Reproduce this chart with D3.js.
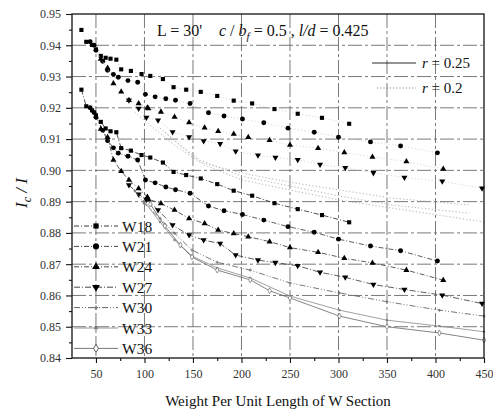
<!DOCTYPE html>
<html>
<head>
<meta charset="utf-8">
<script src="https://cdn.jsdelivr.net/npm/d3@7"></script>
<style>
  html, body { margin: 0; padding: 0; background: #fff; }
  svg { display: block; }
  svg text { font-family: "Liberation Serif", "DejaVu Serif", serif; }
</style>
</head>
<body>
<svg id="chart" width="493" height="412"></svg>
<script>
// ---- tick labels ----
const xTickValues = [50, 100, 150, 200, 250, 300, 350, 400, 450];
const yTickValues = [0.84, 0.85, 0.86, 0.87, 0.88, 0.89, 0.90, 0.91, 0.92, 0.93, 0.94, 0.95];

// ---- W18 ----
const w18Weight = [35, 40, 46, 50, 55, 60, 65, 71, 76, 86, 97, 106, 119, 130, 143, 158, 175, 192, 211, 234, 258, 283, 311];
const w18R025 = [0.9258, 0.9205, 0.9192, 0.9176, 0.9155, 0.9134, 0.9125, 0.9122, 0.9071, 0.9063, 0.9049, 0.9041, 0.9025, 0.8995, 0.8985, 0.8974, 0.8956, 0.8935, 0.8919, 0.8895, 0.8876, 0.8857, 0.8834];
const w18R020 = [0.9449, 0.9411, 0.9401, 0.9387, 0.9366, 0.9360, 0.9357, 0.9354, 0.9323, 0.9318, 0.9308, 0.9302, 0.9292, 0.9266, 0.9258, 0.9251, 0.9238, 0.9223, 0.9214, 0.9196, 0.9181, 0.9168, 0.9149];

// ---- W21 ----
const w21Weight = [44, 48, 50, 57, 62, 68, 73, 83, 93, 101, 111, 122, 132, 147, 166, 182, 201, 223, 248, 275, 300, 333, 364, 402];
const w21R025 = [0.9200, 0.9185, 0.9170, 0.9128, 0.9095, 0.9072, 0.9055, 0.9045, 0.9033, 0.8969, 0.8960, 0.8947, 0.8938, 0.8927, 0.8886, 0.8871, 0.8859, 0.8841, 0.8820, 0.8802, 0.8780, 0.8758, 0.8743, 0.8710];
const w21R020 = [0.9411, 0.9400, 0.9384, 0.9349, 0.9320, 0.9307, 0.9298, 0.9287, 0.9282, 0.9243, 0.9235, 0.9229, 0.9224, 0.9214, 0.9184, 0.9174, 0.9164, 0.9152, 0.9135, 0.9122, 0.9106, 0.9091, 0.9078, 0.9056];

// ---- W24 ----
const w24Weight = [55, 62, 68, 76, 84, 94, 103, 104, 117, 131, 146, 162, 176, 192, 207, 229, 250, 279, 306, 335, 370, 408];
const w24R025 = [0.9132, 0.9106, 0.9033, 0.8997, 0.8969, 0.8942, 0.8915, 0.8908, 0.8894, 0.8873, 0.8846, 0.8830, 0.8809, 0.8798, 0.8788, 0.8772, 0.8753, 0.8738, 0.8719, 0.8704, 0.8681, 0.8649];
const w24R020 = [0.9356, 0.9327, 0.9278, 0.9251, 0.9224, 0.9214, 0.9200, 0.9198, 0.9187, 0.9171, 0.9153, 0.9136, 0.9125, 0.9116, 0.9106, 0.9096, 0.9081, 0.9071, 0.9057, 0.9043, 0.9028, 0.9004];

// ---- W27 ----
const w27Weight = [84, 94, 102, 114, 129, 146, 161, 178, 194, 217, 235, 258, 281, 307, 336, 368, 407, 448];
const w27R025 = [0.8953, 0.8924, 0.8907, 0.8873, 0.8825, 0.8793, 0.8777, 0.8766, 0.8729, 0.8713, 0.8705, 0.8695, 0.8674, 0.8658, 0.8635, 0.8619, 0.8601, 0.8574];
const w27R020 = [0.9224, 0.9198, 0.9169, 0.9160, 0.9123, 0.9107, 0.9094, 0.9085, 0.9061, 0.9048, 0.9041, 0.9034, 0.9019, 0.9008, 0.8992, 0.8977, 0.8965, 0.8943];

// ---- W30 ----
const w30WeightR025 = [90, 99.5, 116, 131, 149, 175, 209, 250, 301, 350, 404, 450];
const w30R025 = [0.8935, 0.8895, 0.8847, 0.8799, 0.8745, 0.8706, 0.8681, 0.8640, 0.8608, 0.8580, 0.8553, 0.8534];
const w30WeightR020 = [90, 106, 131, 157, 201, 250, 301, 356, 435];
const w30R020 = [0.9186, 0.9144, 0.9081, 0.9026, 0.8991, 0.8962, 0.8937, 0.8911, 0.8889];

// ---- W33 ----
const w33WeightR025 = [99.5, 116, 131, 149, 175, 209, 250, 301, 350, 404, 450];
const w33R025 = [0.8902, 0.8835, 0.8777, 0.8726, 0.8688, 0.8656, 0.8598, 0.8553, 0.8521, 0.8502, 0.8484];
const w33WeightR020 = [116, 137, 157, 201, 250, 301, 356, 435];
const w33R020 = [0.9135, 0.9081, 0.9033, 0.8981, 0.8950, 0.8918, 0.8889, 0.8863];

// ---- W36 ----
const w36WeightR025 = [106, 121, 137, 149, 175, 209, 229, 250, 301, 350, 404, 450];
const w36R025 = [0.8892, 0.8822, 0.8761, 0.8723, 0.8681, 0.8650, 0.8615, 0.8592, 0.8534, 0.8500, 0.8480, 0.8457];
const w36WeightR020 = [121, 142, 162, 201, 250, 301, 356, 450];
const w36R020 = [0.9122, 0.9065, 0.9017, 0.8969, 0.8937, 0.8905, 0.8879, 0.8835];

const seriesNames = ["W18", "W21", "W24", "W27", "W30", "W33", "W36"];

// ---- layout ----
const svg = d3.select("#chart");
const plot = { left: 72, right: 484, top: 14, bottom: 358 };

const x = d3.scaleLinear().domain([25.3, 450]).range([plot.left, plot.right]);
const y = d3.scaleLinear().domain([0.84, 0.95]).range([plot.bottom, plot.top]);

// grid
const grid = svg.append("g").attr("class", "grid");
grid.selectAll("line.gx").data(xTickValues.slice(0, -1)).join("line")
  .attr("x1", d => x(d)).attr("x2", d => x(d))
  .attr("y1", plot.top).attr("y2", plot.bottom)
  .attr("stroke", "#6a6a6a").attr("stroke-width", 0.9).attr("stroke-dasharray", "14,3,3,3");
grid.selectAll("line.gy").data(yTickValues.slice(1, -1)).join("line")
  .attr("x1", plot.left).attr("x2", plot.right)
  .attr("y1", d => y(d)).attr("y2", d => y(d))
  .attr("stroke", "#6a6a6a").attr("stroke-width", 0.9).attr("stroke-dasharray", "14,3,3,3");

// axes
const xAxis = d3.axisBottom(x).tickValues(xTickValues).tickSize(5).tickPadding(6).tickFormat(d3.format("d"));
const yAxis = d3.axisLeft(y).tickValues(yTickValues).tickSize(6).tickPadding(5).tickFormat(d3.format(".2f"));
const xMinor = d3.axisBottom(x).tickValues(d3.range(75, 450, 50)).tickSize(3).tickFormat("");
const yMinor = d3.axisLeft(y).tickValues(d3.range(0.845, 0.95, 0.01)).tickSize(3).tickFormat("");

function styleAxis(g) {
  g.attr("font-family", null);
  g.select(".domain").remove();
  g.selectAll(".tick line").attr("stroke", "#111").attr("stroke-width", 1.1);
  g.selectAll(".tick text").attr("fill", "#333").attr("font-size", 12)
    .style("font-family", "Liberation Serif, serif");
}
svg.append("g").attr("transform", `translate(0,${plot.bottom})`).call(xAxis).call(styleAxis);
svg.append("g").attr("transform", `translate(0,${plot.bottom})`).call(xMinor).call(styleAxis);
svg.append("g").attr("transform", `translate(${plot.left},0)`).call(yAxis).call(styleAxis);
svg.append("g").attr("transform", `translate(${plot.left},0)`).call(yMinor).call(styleAxis);

// series
const markerShapes = {
  W18: d3.symbolSquare, W21: d3.symbolCircle, W24: d3.symbolTriangle, W27: d3.symbolTriangle,
  W30: d3.symbolCross, W33: d3.symbolCross, W36: d3.symbolDiamond
};
const markerSizes = { W18: 17, W21: 19, W24: 16, W27: 16, W30: 5, W33: 4, W36: 10 };

function pairs(xs, ys) { return xs.map((v, i) => [v, ys[i]]); }

const lowerSeries = [
  { name: "W18", pts: pairs(w18Weight, w18R025) },
  { name: "W21", pts: pairs(w21Weight, w21R025) },
  { name: "W24", pts: pairs(w24Weight, w24R025) },
  { name: "W27", pts: pairs(w27Weight, w27R025) },
  { name: "W30", pts: pairs(w30WeightR025, w30R025) },
  { name: "W33", pts: pairs(w33WeightR025, w33R025) },
  { name: "W36", pts: pairs(w36WeightR025, w36R025) }
];
const upperSeries = [
  { name: "W18", pts: pairs(w18Weight, w18R020) },
  { name: "W21", pts: pairs(w21Weight, w21R020) },
  { name: "W24", pts: pairs(w24Weight, w24R020) },
  { name: "W27", pts: pairs(w27Weight, w27R020) },
  { name: "W30", pts: pairs(w30WeightR020, w30R020) },
  { name: "W33", pts: pairs(w33WeightR020, w33R020) },
  { name: "W36", pts: pairs(w36WeightR020, w36R020) }
];

const lineStyle = {
  W18: { stroke: "#222", dash: "5,2,1,2", w: 0.8 },
  W21: { stroke: "#333", dash: "5,2,1,2", w: 0.8 },
  W24: { stroke: "#333", dash: "5,2,1,2", w: 0.8 },
  W27: { stroke: "#333", dash: "6,2,1,2", w: 0.8 },
  W30: { stroke: "#555", dash: "6,2,1,2,1,2", w: 0.8 },
  W33: { stroke: "#888", dash: null, w: 0.8 },
  W36: { stroke: "#666", dash: null, w: 0.8 }
};

const line = d3.line().x(d => x(d[0])).y(d => y(d[1]));

function drawMarkers(g, s) {
  const rot = s.name === "W27" ? 180 : (s.name === "W33" ? 45 : 0);
  const open = s.name === "W36";
  const light = s.name === "W30" || s.name === "W33";
  g.selectAll(null).data(s.pts).join("path")
    .attr("d", d3.symbol().type(markerShapes[s.name]).size(markerSizes[s.name]))
    .attr("transform", d => `translate(${x(d[0])},${y(d[1])}) rotate(${rot})`)
    .attr("fill", open ? "#fff" : (light ? "#777" : "#000"))
    .attr("stroke", open ? "#555" : "none")
    .attr("stroke-width", 0.6);
}

// r = 0.2: markers with faint dotted connectors
const upperG = svg.append("g").attr("class", "r020");
upperSeries.forEach(s => {
  const faint = ["W30", "W33", "W36"].includes(s.name);
  upperG.append("path").datum(s.pts)
    .attr("d", line).attr("fill", "none")
    .attr("stroke", faint ? "#aaa" : "#c4c4c4").attr("stroke-width", faint ? 0.9 : 0.7)
    .attr("stroke-dasharray", "1.2,2.2");
  if (!faint) drawMarkers(upperG, s);
});

// r = 0.25: markers joined by lines
const lowerG = svg.append("g").attr("class", "r025");
lowerSeries.forEach(s => {
  const st = lineStyle[s.name];
  lowerG.append("path").datum(s.pts)
    .attr("d", line).attr("fill", "none")
    .attr("stroke", st.stroke).attr("stroke-width", st.w)
    .attr("stroke-dasharray", st.dash);
  drawMarkers(lowerG, s);
});

// frame
svg.append("rect")
  .attr("x", plot.left).attr("y", plot.top)
  .attr("width", plot.right - plot.left).attr("height", plot.bottom - plot.top)
  .attr("fill", "none").attr("stroke", "#111").attr("stroke-width", 1.3);

// series legend (lower left)
const legend = svg.append("g").attr("class", "legend");
seriesNames.forEach((name, i) => {
  const ly = 226 + i * 20.4;
  const st = lineStyle[name];
  legend.append("line")
    .attr("x1", 74).attr("x2", 118).attr("y1", ly).attr("y2", ly)
    .attr("stroke", st.stroke).attr("stroke-width", 0.9)
    .attr("stroke-dasharray", st.dash);
  const rot = name === "W27" ? 180 : (name === "W33" ? 45 : 0);
  const small = name === "W30" || name === "W33";
  legend.append("path")
    .attr("d", d3.symbol().type(markerShapes[name]).size(small ? 10 : markerSizes[name] + 10))
    .attr("transform", `translate(96,${ly}) rotate(${rot})`)
    .attr("fill", name === "W36" ? "#fff" : (small ? "#777" : "#000"))
    .attr("stroke", name === "W36" ? "#333" : "none").attr("stroke-width", 0.8);
  legend.append("text")
    .attr("x", 122).attr("y", ly + 5.5)
    .attr("font-size", 15.5).attr("fill", "#111")
    .text(name);
});

// r legend (upper right)
svg.append("line").attr("x1", 372).attr("x2", 416).attr("y1", 63).attr("y2", 63)
  .attr("stroke", "#111").attr("stroke-width", 0.9);
svg.append("line").attr("x1", 377).attr("x2", 416).attr("y1", 88).attr("y2", 88)
  .attr("stroke", "#777").attr("stroke-width", 0.9).attr("stroke-dasharray", "1.2,2");
const rText = (yy, val) => {
  const t = svg.append("text").attr("x", 422).attr("y", yy).attr("font-size", 15).attr("fill", "#111");
  t.append("tspan").attr("font-style", "italic").text("r");
  t.append("tspan").text(" = " + val);
};
rText(68, "0.25");
rText(93, "0.2");

// parameter header
svg.append("text").attr("x", 157).attr("y", 36).attr("font-size", 16).attr("fill", "#111").text("L = 30'");
const hdr = svg.append("text").attr("x", 219).attr("y", 36).attr("font-size", 16).attr("fill", "#111");
hdr.append("tspan").attr("font-style", "italic").text("c");
hdr.append("tspan").text(" / ");
hdr.append("tspan").attr("font-style", "italic").text("b");
hdr.append("tspan").attr("font-style", "italic").attr("font-size", 11).attr("dy", 4).text("f");
hdr.append("tspan").attr("dy", -4).text(" = 0.5 , ");
hdr.append("tspan").attr("font-style", "italic").text("l/d");
hdr.append("tspan").text(" = 0.425");

// axis titles
svg.append("text")
  .attr("x", 278).attr("y", 406).attr("text-anchor", "middle")
  .attr("font-size", 15).attr("fill", "#111")
  .text("Weight Per Unit Length of W Section");

const yt = svg.append("text")
  .attr("transform", "translate(27,193) rotate(-90)")
  .attr("text-anchor", "middle").attr("font-size", 17).attr("fill", "#111")
  .attr("font-style", "italic");
yt.append("tspan").text("I");
yt.append("tspan").attr("font-size", 12).attr("dy", 4).text("c");
yt.append("tspan").attr("dy", -4).text(" / I");
</script>
</body>
</html>
